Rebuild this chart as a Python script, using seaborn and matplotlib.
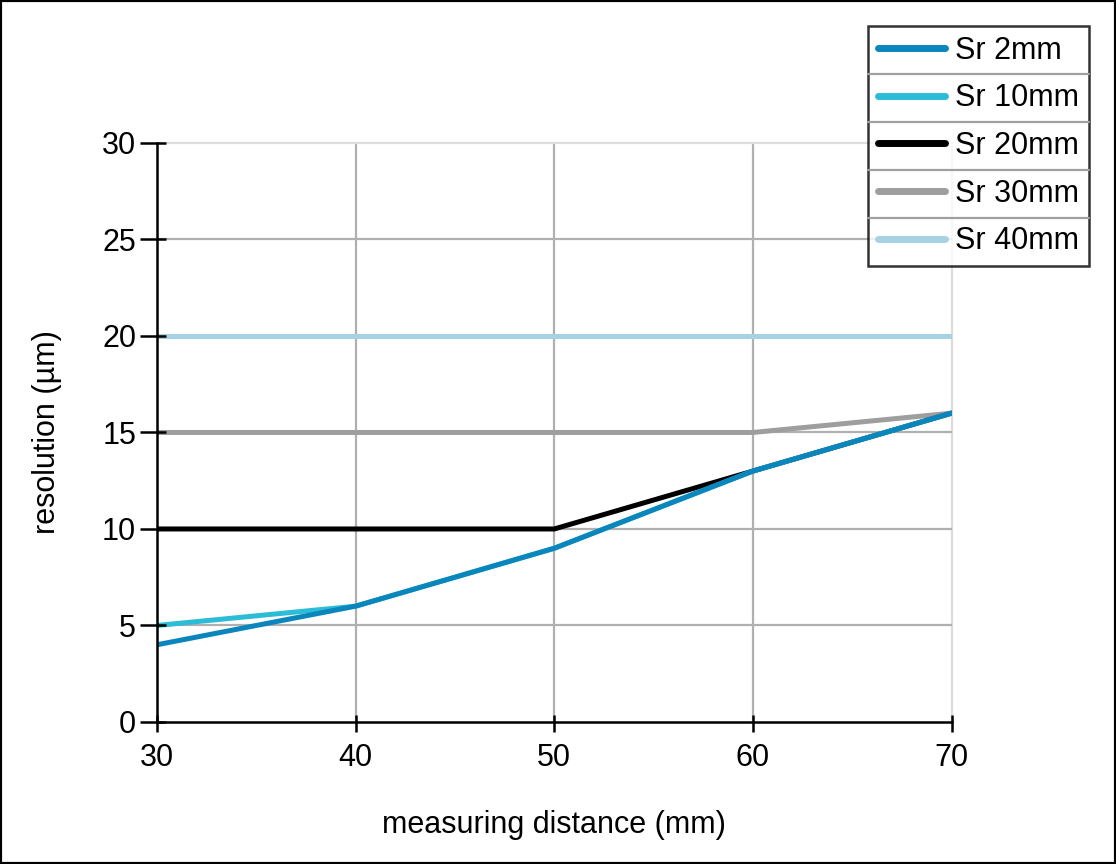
import numpy as np
import pandas as pd
import matplotlib
matplotlib.use("Agg")
import matplotlib.pyplot as plt
from matplotlib.lines import Line2D
from matplotlib.patches import Rectangle
import seaborn as sns

sns.set_style("white")
plt.rcParams["font.family"] = ["Liberation Sans", "DejaVu Sans"]
plt.rcParams["text.color"] = "black"
plt.rcParams["axes.labelcolor"] = "black"
plt.rcParams["xtick.color"] = "black"
plt.rcParams["ytick.color"] = "black"

distance = [30, 40, 50, 60, 70]
sr_2 = [4, 6, 9, 13, 16]
sr_10 = [5, 6, 9, 13, 16]
sr_20 = [10, 10, 10, 13, 16]
sr_30 = [15, 15, 15, 15, 16]
sr_40 = [20, 20, 20, 20, 20]

labels = ["Sr 2mm", "Sr 10mm", "Sr 20mm", "Sr 30mm", "Sr 40mm"]
series = [sr_2, sr_10, sr_20, sr_30, sr_40]
colors = ["#0a86bd", "#2bbcd8", "#000000", "#9e9e9e", "#a6d2e4"]
y_ticks = [0, 5, 10, 15, 20, 25, 30]

fig = plt.figure(figsize=(11.16, 8.64), dpi=100)
ax = fig.add_axes([0.1407, 0.1644, 0.7119, 0.6701])
ax.set_axisbelow(False)

# draw in reverse so Sr 2mm ends on top
handles = {}
for lab, vals, col in reversed(list(zip(labels, series, colors))):
    df = pd.DataFrame({"x": distance, "y": vals})
    sns.lineplot(data=df, x="x", y="y", ax=ax, color=col, lw=3.6, label=lab, zorder=2)
    handles[lab] = ax.lines[-1]

ax.set_xlim(30, 70)
ax.set_ylim(0, 30)
ax.set_xticks(distance)
ax.set_yticks(y_ticks)
# minor ticks at the same spots give the short inward part of each tick
ax.set_xticks(distance, minor=True)
ax.set_yticks(y_ticks, minor=True)
ax.xaxis.remove_overlapping_locs = False
ax.yaxis.remove_overlapping_locs = False

# grid
for v in [40, 50, 60]:
    ax.axvline(v, color="#b0b0b0", lw=1.6, zorder=1)
ax.axvline(70, color="#dcdcdc", lw=1.6, zorder=1, clip_on=False)
for v in [5, 10, 15, 20, 25]:
    ax.axhline(v, color="#b0b0b0", lw=1.6, zorder=1)
ax.axhline(30, color="#dcdcdc", lw=1.6, zorder=1, clip_on=False)

for s in ["top", "right"]:
    ax.spines[s].set_visible(False)
for s in ["left", "bottom"]:
    ax.spines[s].set_color("black")
    ax.spines[s].set_linewidth(1.8)
    ax.spines[s].set_zorder(4)

ax.tick_params(which="both", left=True, bottom=True, width=1.8, color="black")
ax.tick_params(axis="y", which="major", direction="out", length=12, labelsize=22, pad=3)
ax.tick_params(axis="y", which="minor", direction="in", length=6.5, labelleft=False)
ax.tick_params(axis="x", which="major", direction="out", length=7, labelsize=22, pad=8)
ax.tick_params(axis="x", which="minor", direction="in", length=5, labelbottom=False)
ax.set_xlabel("measuring distance (mm)", fontsize=22, labelpad=27)
ax.set_ylabel("resolution (µm)", fontsize=22, labelpad=29)

leg = ax.legend([handles[l] for l in labels], labels, loc="upper right",
                bbox_to_anchor=(0.9755, 0.9695), bbox_transform=fig.transFigure,
                fontsize=22, frameon=True, fancybox=False, handlelength=2.2,
                handletextpad=0.35, labelspacing=0.58, borderpad=0.3,
                borderaxespad=0)
leg.get_frame().set_edgecolor("black")
leg.get_frame().set_linewidth(1.8)
leg.set_zorder(10)
for h in leg.legend_handles:
    h.set_linewidth(5)

# separators between legend rows
fig.canvas.draw()
inv = fig.transFigure.inverted()
fb = inv.transform(leg.get_frame().get_window_extent())
texts = leg.get_texts()
for a, b in zip(texts[:-1], texts[1:]):
    ya = inv.transform(a.get_window_extent())
    yb = inv.transform(b.get_window_extent())
    ymid = (ya[0, 1] + yb[1, 1]) / 2
    fig.add_artist(Line2D([fb[0, 0], fb[1, 0]], [ymid, ymid], color="#a0a0a0",
                          lw=1.6, transform=fig.transFigure, zorder=11))

fig.add_artist(Rectangle((0, 0), 1, 1, transform=fig.transFigure, fill=False,
                         edgecolor="black", lw=3))

fig.savefig("out.png", dpi=100)
